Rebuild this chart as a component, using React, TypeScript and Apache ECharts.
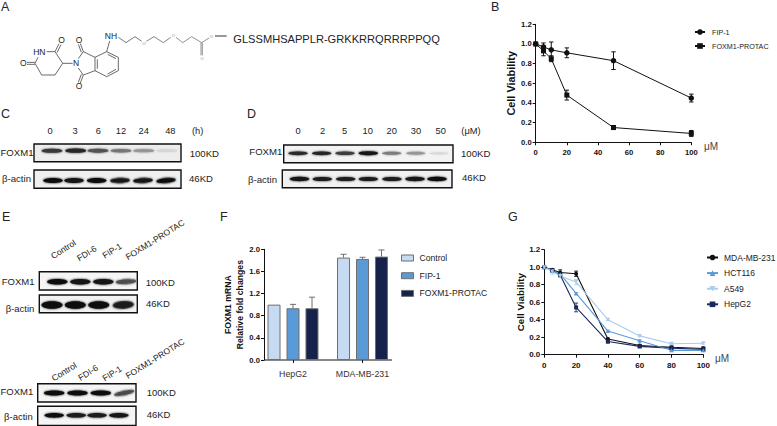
import React, { useEffect, useRef } from "react";
import * as echarts from "echarts";

// ---------- data ----------
const doseB = [0, 5, 10, 20, 50, 100];
const fip1B = [1.0, 0.97, 0.94, 0.91, 0.83, 0.45];
const fip1BErr = [0, 0.04, 0.08, 0.05, 0.09, 0.04];
const protacB = [1.0, 0.93, 0.85, 0.48, 0.15, 0.09];
const protacBErr = [0, 0.05, 0.03, 0.05, 0.02, 0.03];

const cellLinesF = ["HepG2", "MDA-MB-231"];
const controlF = [1.0, 1.85];
const controlFErr = [0, 0.06];
const fip1F = [0.935, 1.826];
const fip1FErr = [0.07, 0.03];
const protacF = [0.935, 1.868];
const protacFErr = [0.2, 0.12];

const doseG = [0, 5, 10, 20, 40, 60, 80, 100];
const mdaG = [1.0, 0.97, 0.94, 0.925, 0.18, 0.105, 0.085, 0.07];
const mdaGErr = [0, 0.015, 0.03, 0.03, 0.01, 0.01, 0.015, 0.02];
const hctG = [1.0, 0.96, 0.92, 0.7, 0.27, 0.16, 0.05, 0.05];
const hctGErr = [0, 0.015, 0.02, 0.01, 0.01, 0.01, 0.015, 0.015];
const a549G = [1.0, 0.95, 0.9, 0.83, 0.4, 0.215, 0.125, 0.13];
const a549GErr = [0, 0.03, 0.02, 0.03, 0.01, 0.01, 0.01, 0.01];
const hepG2G = [1.0, 0.965, 0.91, 0.54, 0.15, 0.095, 0.075, 0.06];
const hepG2GErr = [0, 0.02, 0.02, 0.05, 0.015, 0.015, 0.02, 0.02];

const timeLabels = ["0", "3", "6", "12", "24", "48"];
const doseLabels = ["0", "2", "5", "10", "20", "30", "50"];
const treatLabels = ["Control", "FDI-6", "FIP-1", "FOXM1-PROTAC"];
const peptide = "GLSSMHSAPPLR-GRKKRRQRRRPPQQ";

// band darkness, 0 to 1, read from the blots
const cFoxm1 = [0.8, 0.88, 0.68, 0.52, 0.38, 0.1];
const cActin = [0.97, 0.95, 0.97, 0.95, 0.95, 0.97];
const dFoxm1 = [0.85, 0.88, 0.78, 0.95, 0.5, 0.38, 0.08];
const dActin = [0.95, 0.92, 0.92, 0.92, 0.92, 0.95, 0.97];
const eTopFoxm1 = [0.98, 0.95, 0.95, 0.7];
const eTopActin = [0.98, 0.98, 0.98, 0.93];
const eBotFoxm1 = [0.97, 0.97, 0.97, 0.72];
const eBotActin = [0.97, 0.93, 0.93, 0.95];

// ---------- styles ----------
const FONT = "Liberation Sans";
const BLUE_L = "#c6daf2";
const BLUE_M = "#5a9ad6";
const BLUE_P = "#a8cdf0";
const NAVY = "#1b2a5a";
const BAR_NAVY = "#16224c";

// ---------- graphic helpers ----------
const label = (x: number, y: number, text: string, size: number, o: any = {}) => ({
  type: "text",
  x,
  y,
  rotation: o.rotation || 0,
  silent: true,
  style: {
    text,
    fontFamily: FONT,
    fontSize: size,
    fontWeight: o.weight || "normal",
    fill: o.fill || "#222",
    textAlign: o.align || "left",
    textVerticalAlign: "middle",
  },
});

const bond = (pts: number[][], stroke = "#444", w = 0.8) => ({
  type: "polyline",
  silent: true,
  shape: { points: pts.map(([x, y]) => [x / 3, y / 3]) },
  style: { stroke, lineWidth: w, fill: "none" },
});

const blot = (
  box: number[],
  lanes: number[],
  values: number[],
  cy: number,
  bandW: number,
  bandH: number,
  bg: string,
  tilt: number[] = [],
) => [
  {
    type: "rect",
    silent: true,
    shape: { x: box[0], y: box[1], width: box[2] - box[0], height: box[3] - box[1] },
    style: { fill: bg, stroke: "#111", lineWidth: 1.4 },
  },
  ...values.map((v, i) => {
    const g = Math.round(235 - v * 225);
    const col = `rgb(${g},${g},${g})`;
    return {
      type: "ellipse",
      silent: true,
      x: lanes[i],
      y: cy,
      rotation: tilt[i] || 0,
      shape: { cx: 0, cy: 0, rx: bandW / 2, ry: (bandH / 2) * (0.55 + 0.45 * v) },
      style: { fill: col, shadowBlur: 2.5, shadowColor: col },
    };
  }),
];

const chem = [
  bond([[140, 155], [165, 155], [188, 190], [165, 225], [125, 225], [105, 190], [114, 172]]),
  bond([[165, 155], [177, 131]]),
  bond([[171, 158], [183, 134]]),
  bond([[105, 187], [81, 187]]),
  bond([[105, 193], [81, 193]]),
  bond([[188, 190], [218, 190]]),
  bond([[235, 176], [250, 155], [285, 172], [285, 212], [250, 225], [235, 204]]),
  bond([[250, 155], [241, 131]]),
  bond([[244, 157], [235, 133]]),
  bond([[250, 225], [241, 249]]),
  bond([[244, 223], [235, 247]]),
  bond([[285, 172], [320, 155], [355, 172], [355, 212], [320, 230], [285, 212]]),
  bond([[323, 163], [348, 176]]),
  bond([[348, 208], [323, 222]]),
  bond([[292, 178], [292, 206]]),
  bond([[320, 155], [329, 123]]),
  bond([[355, 112], [378, 128], [405, 110], [425, 124]], "#555"),
  bond([[439, 124], [462, 110], [490, 128], [512, 112]], "#666"),
  bond([[528, 112], [548, 128], [575, 110], [605, 128], [627, 114]], "#777"),
  bond([[603, 128], [603, 166]], "#777"),
  bond([[607, 128], [607, 166]], "#777"),
  bond([[645, 108], [680, 108]], "#333", 1),
];

const chemText = [
  label(118 / 3, 155 / 3, "HN", 8.5, { align: "center" }),
  label(185 / 3, 120 / 3, "O", 8.5, { align: "center" }),
  label(70 / 3, 190 / 3, "O", 8.5, { align: "center" }),
  label(228 / 3, 190 / 3, "N", 8.5, { align: "center" }),
  label(237 / 3, 119 / 3, "O", 8.5, { align: "center" }),
  label(237 / 3, 259 / 3, "O", 8.5, { align: "center" }),
  label(333 / 3, 108 / 3, "NH", 8.5, { align: "center" }),
  label(432 / 3, 129 / 3, "O", 4, { align: "center", fill: "#777" }),
  label(520 / 3, 107 / 3, "O", 4, { align: "center", fill: "#888" }),
  label(606 / 3, 176 / 3, "O", 4, { align: "center", fill: "#888" }),
  label(634 / 3, 108 / 3, "O", 4, { align: "center", fill: "#888" }),
];

const rotated = (centers: number[][]) =>
  treatLabels.map((n, i) =>
    label(centers[i][0], centers[i][1], n, 8.6, { align: "center", rotation: 0.56 }),
  );

const graphics: any[] = [
  // panel letters
  label(1, 7, "A", 12.5),
  label(491, 7, "B", 12.5),
  label(1, 114, "C", 12.5),
  label(247, 114, "D", 12.5),
  label(2, 217, "E", 12.5),
  label(220, 217, "F", 12.5),
  label(508, 217, "G", 12.5),
  // panel A
  ...chem,
  ...chemText,
  label(233.3, 39, peptide, 11.1),
  // panel C
  ...timeLabels.map((t, i) => label([50, 75, 98.3, 121, 143.7, 170.3][i], 130.7, t, 9.3, { align: "center" })),
  label(197.7, 130.7, "(h)", 9.3, { align: "center" }),
  ...blot([34, 144, 181, 161.7], [52, 75.7, 98, 121, 143.7, 166.7], cFoxm1, 150.7, 21, 4.5, "#ededed"),
  ...blot([34, 170, 181, 188.3], [53, 74, 96.7, 120, 143, 166], cActin, 180.5, 19.5, 5.2, "#f0f0f0", [0, 0, 0, 0.03, 0.05, 0.09]),
  label(0.5, 152.7, "FOXM1", 9.6),
  label(2, 178.7, "β-actin", 9.6),
  label(189.7, 153.3, "100KD", 9.6),
  label(189, 178, "46KD", 9.6),
  // panel D
  ...doseLabels.map((t, i) => label([298, 322.7, 344.7, 367.7, 391.7, 416, 440.7][i], 130.7, t, 9.3, { align: "center" })),
  label(471, 130.7, "(μM)", 9.3, { align: "center" }),
  ...blot([283.7, 145, 453, 162.7], [298, 321.7, 345, 368.3, 391.7, 415.7, 439], dFoxm1, 153.3, 19.5, 4, "#f3f3f3"),
  ...blot([282.3, 170, 452, 187.7], [299.5, 322.3, 345.7, 368.3, 392, 415, 437], dActin, 179, 19.5, 4.4, "#f1f1f1"),
  label(249.3, 151.7, "FOXM1", 9.6),
  label(248, 179, "β-actin", 9.6),
  label(461, 153.3, "100KD", 9.6),
  label(462, 177.3, "46KD", 9.6),
  // panel E, top
  ...rotated([[63.3, 249.3], [86.7, 253.3], [112, 250.7], [155, 239.7]]),
  ...blot([39.3, 271.7, 137.3, 290], [57.3, 80.3, 103.3, 126], eTopFoxm1, 281.7, 20.5, 5.5, "#f5f5f5", [0, 0, 0, 0.06]),
  ...blot([39.3, 295, 137.3, 312.7], [52, 75.3, 98.7, 123.3], eTopActin, 305, 21, 7.5, "#f2f2f2", [0, 0, 0, 0.06]),
  label(1.7, 281.7, "FOXM1", 9.5),
  label(5.7, 308.3, "β-actin", 9.5),
  label(145.7, 282.3, "100KD", 9.5),
  label(146, 303.7, "46KD", 9.5),
  // panel E, bottom
  ...rotated([[64, 371.7], [88, 372.7], [112, 373.5], [155, 358.5]]),
  ...blot([37.7, 383.7, 136, 402], [54.2, 77.5, 100.8, 124.2], eBotFoxm1, 393, 20.5, 5, "#f5f5f5", [0, 0, 0, 0.2]),
  ...blot([37.7, 406.3, 136, 425.4], [54.2, 76.2, 97, 118.8], eBotActin, 415.3, 19.5, 4.8, "#f5f5f5"),
  label(0.5, 391.7, "FOXM1", 9.5),
  label(4, 416, "β-actin", 9.5),
  label(146.7, 392.7, "100KD", 9.5),
  label(146.7, 414.3, "46KD", 9.5),
  // units
  label(704, 146.7, "μM", 10, { fill: "#444" }),
  label(715, 358.3, "μM", 10, { fill: "#444" }),
  // panel F baseline
  {
    type: "line",
    silent: true,
    shape: { x1: 264, y1: 360, x2: 392, y2: 360 },
    style: { stroke: "#111", lineWidth: 1 },
  },
];

// ---------- axes ----------
const valueAxis = (gridIndex: number, max: number, interval: number, size: number, extra: any = {}) => ({
  type: "value",
  gridIndex,
  min: 0,
  max,
  interval,
  splitLine: { show: false },
  axisLine: { show: true, onZero: false, lineStyle: { color: "#111", width: 1 } },
  axisTick: { show: true, length: 3, lineStyle: { color: "#111", width: 1 } },
  axisLabel: {
    color: "#111",
    fontFamily: FONT,
    fontWeight: "bold",
    fontSize: size,
    margin: extra.margin ?? 4,
    formatter: extra.fmt,
  },
  ...extra.opts,
});

const yName = (name: string, size: number, gap: number, lh?: number) => ({
  name,
  nameLocation: "middle",
  nameGap: gap,
  nameTextStyle: { color: "#111", fontFamily: FONT, fontWeight: "bold", fontSize: size, lineHeight: lh },
});

const oneDecimal = (v: number) => v.toFixed(1);

const errorSeries = (
  name: string,
  axis: number,
  xs: (number | string)[],
  ys: number[],
  errs: number[],
  color: string,
  cap: number,
  lw: number,
  oneSided = false,
  pxOffset = 0,
) => ({
  type: "custom",
  name: name + " error",
  xAxisIndex: axis,
  yAxisIndex: axis,
  silent: true,
  z: 1,
  data: xs.map((x, i) => [typeof x === "number" ? x : i, ys[i], errs[i]]),
  renderItem: (_: any, api: any) => {
    const x = api.value(0);
    const y = api.value(1);
    const e = api.value(2);
    if (!e) return null;
    const top = api.coord([x, y + e]);
    const bot = api.coord([x, oneSided ? y : y - e]);
    const px = top[0] + pxOffset;
    const style = { stroke: color, lineWidth: lw };
    const seg = (x1: number, y1: number, x2: number, y2: number) => ({
      type: "line",
      shape: { x1, y1, x2, y2 },
      style,
    });
    const kids = [seg(px, top[1], px, bot[1]), seg(px - cap, top[1], px + cap, top[1])];
    if (!oneSided) kids.push(seg(px - cap, bot[1], px + cap, bot[1]));
    return { type: "group", children: kids };
  },
});

const lineSeries = (
  name: string,
  axis: number,
  xs: number[],
  ys: number[],
  color: string,
  symbol: string,
  size: number,
  lw: number,
  rotate = 0,
) => ({
  type: "line",
  name,
  xAxisIndex: axis,
  yAxisIndex: axis,
  data: xs.map((x, i) => [x, ys[i]]),
  symbol,
  symbolSize: size,
  symbolRotate: rotate,
  z: 3,
  itemStyle: { color },
  lineStyle: { color, width: lw },
});

const barSeries = (name: string, ys: number[], color: string) => ({
  type: "bar",
  name,
  xAxisIndex: 1,
  yAxisIndex: 1,
  data: ys,
  barWidth: 13,
  barGap: "46%",
  z: 2,
  itemStyle: { color, borderColor: "#6f6f6f", borderWidth: 1 },
});

const legendText = (size: number, pad: number) => ({
  color: "#222",
  fontFamily: FONT,
  fontSize: size,
  padding: [0, 0, 0, pad],
});

const buildOption = (): any => ({
  animation: false,
  backgroundColor: "#ffffff",
  grid: [
    { left: 535.7, top: 24.3, width: 155.6, height: 118 },
    { left: 258.25, top: 249.3, width: 139, height: 110.7 },
    { left: 544.3, top: 249.7, width: 159, height: 105 },
  ],
  xAxis: [
    valueAxis(0, 100, 20, 7.7, { margin: 6 }),
    {
      type: "category",
      gridIndex: 1,
      data: cellLinesF,
      axisLine: { show: false },
      axisTick: { show: true, alignWithLabel: true, length: 3, lineStyle: { color: "#111" } },
      axisLabel: { color: "#333", fontFamily: FONT, fontSize: 8.8, margin: 9 },
    },
    valueAxis(2, 100, 20, 8, { margin: 7 }),
  ],
  yAxis: [
    valueAxis(0, 1.2, 0.2, 7.7, { fmt: oneDecimal, opts: yName("Cell Viability", 10.9, 19) }),
    valueAxis(1, 2, 0.4, 7.7, {
      fmt: oneDecimal,
      opts: { offset: -5.75, ...yName("FOXM1 mRNA\nRelative fold changes", 8.7, 17.5, 11.4) },
    }),
    valueAxis(2, 1.2, 0.2, 8, { fmt: oneDecimal, opts: yName("Cell Viability", 9.8, 19) }),
  ],
  legend: [
    {
      left: 694,
      top: 28.5,
      padding: 0,
      orient: "vertical",
      selectedMode: false,
      itemWidth: 10,
      itemHeight: 7,
      itemGap: 7,
      textStyle: legendText(7.2, 2),
      data: ["FIP-1", "FOXM1-PROTAC"],
    },
    {
      left: 401,
      top: 253.5,
      padding: 0,
      orient: "vertical",
      selectedMode: false,
      itemWidth: 12,
      itemHeight: 6,
      itemGap: 8.7,
      textStyle: legendText(8.6, 1),
      data: [
        { name: "Control", icon: "rect", itemStyle: { color: BLUE_L, borderColor: "#6f6f6f", borderWidth: 1 } },
        { name: "FIP-1", icon: "rect", itemStyle: { color: BLUE_M, borderColor: "#6f6f6f", borderWidth: 1 } },
        { name: "FOXM1-PROTAC", icon: "rect", itemStyle: { color: BAR_NAVY, borderColor: "#6f6f6f", borderWidth: 1 } },
      ],
    },
    {
      left: 706,
      top: 253,
      padding: 0,
      orient: "vertical",
      selectedMode: false,
      itemWidth: 11,
      itemHeight: 7,
      itemGap: 6.6,
      textStyle: legendText(8.5, 1),
      data: ["MDA-MB-231", "HCT116", "A549", "HepG2"],
    },
  ],
  series: [
    errorSeries("FIP-1", 0, doseB, fip1B, fip1BErr, "#111", 2.2, 1),
    errorSeries("FOXM1-PROTAC", 0, doseB, protacB, protacBErr, "#111", 2.2, 1),
    lineSeries("FIP-1", 0, doseB, fip1B, "#111", "circle", 5.5, 1),
    lineSeries("FOXM1-PROTAC", 0, doseB, protacB, "#111", "rect", 5, 1),
    barSeries("Control", controlF, BLUE_L),
    barSeries("FIP-1", fip1F, BLUE_M),
    barSeries("FOXM1-PROTAC", protacF, BAR_NAVY),
    errorSeries("Control", 1, cellLinesF, controlF, controlFErr, "#6f6f6f", 3, 1, true, -19),
    errorSeries("FIP-1", 1, cellLinesF, fip1F, fip1FErr, "#6f6f6f", 3, 1, true, 0),
    errorSeries("FOXM1-PROTAC", 1, cellLinesF, protacF, protacFErr, "#6f6f6f", 3, 1, true, 19),
    errorSeries("MDA-MB-231", 2, doseG, mdaG, mdaGErr, "#111", 2, 0.9),
    errorSeries("HepG2", 2, doseG, hepG2G, hepG2GErr, NAVY, 2, 0.9),
    errorSeries("HCT116", 2, doseG, hctG, hctGErr, BLUE_M, 2, 0.9),
    errorSeries("A549", 2, doseG, a549G, a549GErr, BLUE_P, 2, 0.9),
    lineSeries("MDA-MB-231", 2, doseG, mdaG, "#111", "circle", 4, 1.1),
    lineSeries("HepG2", 2, doseG, hepG2G, NAVY, "rect", 4, 1.1),
    lineSeries("HCT116", 2, doseG, hctG, BLUE_M, "triangle", 4, 1.1),
    lineSeries("A549", 2, doseG, a549G, BLUE_P, "triangle", 4, 1.1, 180),
  ],
  graphic: { elements: graphics },
});

export default function App() {
  const ref = useRef<HTMLDivElement>(null);
  useEffect(() => {
    document.body.style.margin = "0";
    const chart = echarts.init(ref.current!, undefined, { renderer: "svg" });
    chart.setOption(buildOption());
    return () => chart.dispose();
  }, []);
  return <div ref={ref} style={{ position: "absolute", left: 0, top: 0, width: 777, height: 426 }} />;
}
